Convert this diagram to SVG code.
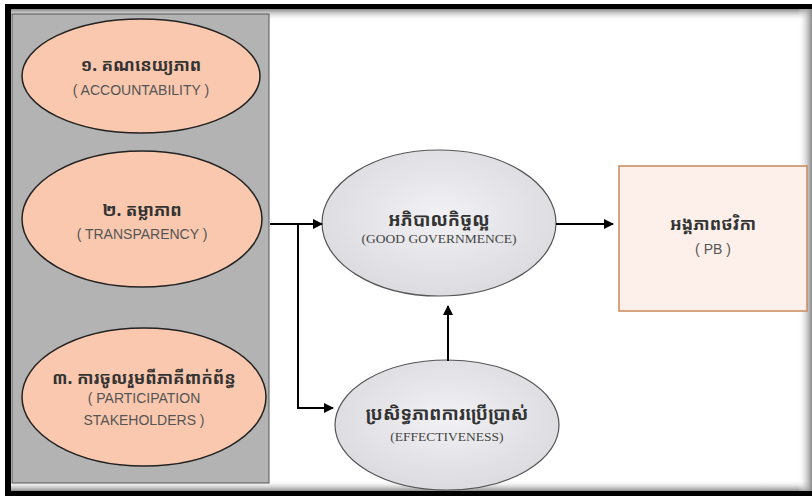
<svg xmlns="http://www.w3.org/2000/svg" width="812" height="496" viewBox="0 0 812 496">
<style>
.km{font-family:"Noto Sans Khmer","Khmer OS","DejaVu Sans",sans-serif;font-weight:bold;font-size:17px;fill:#333;text-anchor:middle}
.kb{font-size:18px}
.en{font-family:"Liberation Sans",Arial,sans-serif;font-size:14px;fill:#555;text-anchor:middle}
.ens{font-family:"Liberation Serif","Times New Roman",serif;font-size:13.5px;fill:#444;text-anchor:middle}
.peach{fill:#f9c8ae;stroke:#222;stroke-width:1.5}
.grey{fill:url(#gg);stroke:#555;stroke-width:1.2}
.ln{fill:none;stroke:#000;stroke-width:2}
</style>
<defs>
<radialGradient id="gg" cx="50%" cy="45%" r="60%">
<stop offset="0" stop-color="#f2f2f5"/><stop offset="1" stop-color="#d9d9de"/>
</radialGradient>
<linearGradient id="topS" x1="0" y1="0" x2="0" y2="1"><stop offset="0" stop-color="#888"/><stop offset="1" stop-color="#fff" stop-opacity="0"/></linearGradient>
<linearGradient id="botS" x1="0" y1="1" x2="0" y2="0"><stop offset="0" stop-color="#777"/><stop offset="1" stop-color="#fff" stop-opacity="0"/></linearGradient>
<linearGradient id="rS" x1="1" y1="0" x2="0" y2="0"><stop offset="0" stop-color="#888"/><stop offset="1" stop-color="#fff" stop-opacity="0"/></linearGradient>
<marker id="ah" viewBox="0 0 10 10" refX="9" refY="5" markerWidth="5" markerHeight="5" orient="auto" markerUnits="strokeWidth"><path d="M0,0 L10,5 L0,10 z" fill="#000"/></marker>
</defs>
<rect x="0" y="0" width="812" height="496" fill="#fff"/>
<g id="frame">
<rect x="11" y="9" width="801" height="12" fill="url(#topS)"/>
<rect x="11" y="480" width="801" height="12" fill="url(#botS)"/>
<rect x="798" y="9" width="14" height="483" fill="url(#rS)"/>
<rect x="5" y="4" width="807" height="5" fill="#000"/>
<rect x="5" y="4" width="6" height="492" fill="#000"/>
<rect x="5" y="491" width="807" height="5" fill="#000"/>
</g>
<g id="panel"><rect x="12" y="14" width="257" height="469" fill="#b3b3b3" stroke="#555" stroke-width="1"/></g>
<g id="n1"><ellipse class="peach" cx="141" cy="76" rx="119" ry="57"/>
<text class="km" x="141" y="71">១. គណនេយ្យភាព</text>
<text class="en" x="141" y="95">( ACCOUNTABILITY )</text></g>
<g id="n2"><ellipse class="peach" cx="142" cy="219" rx="120" ry="68"/>
<text class="km" x="142" y="216">២. តម្លាភាព</text>
<text class="en" x="142" y="239">( TRANSPARENCY )</text></g>
<g id="n3"><ellipse class="peach" cx="144" cy="397" rx="122" ry="69"/>
<text class="km" x="144" y="384">៣. ការចូលរួមពីភាគីពាក់ព័ន្ធ</text>
<text class="en" x="144" y="403">( PARTICIPATION</text>
<text class="en" x="144" y="425">STAKEHOLDERS )</text></g>
<g id="gov"><ellipse class="grey" cx="439" cy="223" rx="117" ry="73"/>
<text class="km kb" x="439" y="226">អភិបាលកិច្ចល្អ</text>
<text class="ens" x="439" y="243">(GOOD GOVERNMENCE)</text></g>
<g id="eff"><ellipse class="grey" cx="447" cy="425" rx="112" ry="65"/>
<text class="km kb" x="447" y="420">ប្រសិទ្ធភាពការប្រើប្រាស់</text>
<text class="ens" x="447" y="441">(EFFECTIVENESS)</text></g>
<g id="pb"><rect x="619" y="166" width="188" height="145" fill="#fdf0ea" stroke="#c8895c" stroke-width="1.5"/>
<text class="km" x="713" y="230">អង្គភាពថវិកា</text>
<text class="en" x="713" y="254">( PB )</text></g>
<g id="connectors">
<path class="ln" d="M270,224 H322" marker-end="url(#ah)"/>
<path class="ln" d="M298,224 V408 H333" marker-end="url(#ah)"/>
<path class="ln" d="M448,361 V306" marker-end="url(#ah)"/>
<path class="ln" d="M556,224 H613" marker-end="url(#ah)"/>
</g>
</svg>
